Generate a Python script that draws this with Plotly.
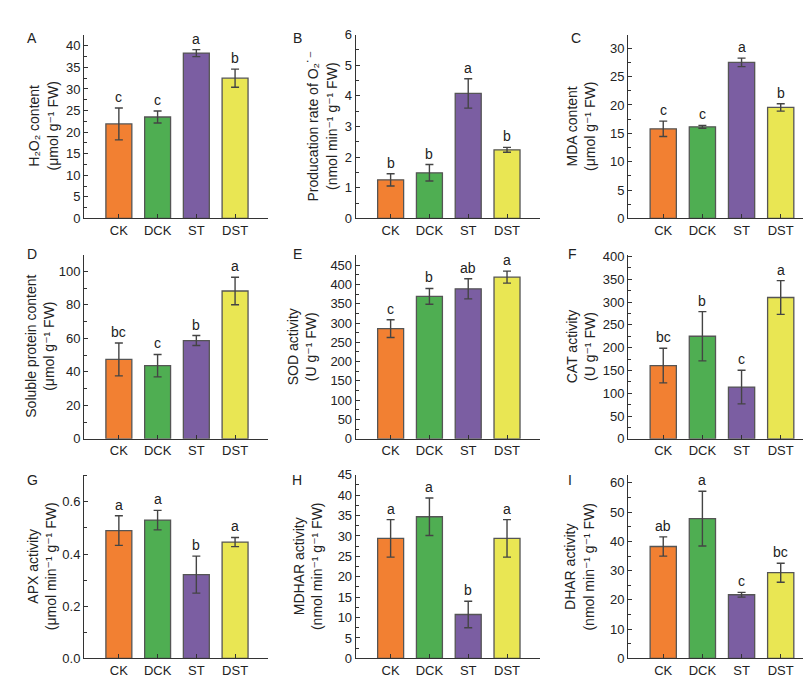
import plotly.graph_objects as go

W, H = 811, 687

categories = ["CK", "DCK", "ST", "DST"]
colors = ["#F28032", "#4FAE52", "#7B5EA2", "#E9E653"]

panel_labels = ["A", "B", "C", "D", "E", "F", "G", "H", "I"]

h2o2_mean = [21.9, 23.5, 38.3, 32.5]
h2o2_err = [3.7, 1.4, 0.8, 2.1]
h2o2_sig = ["c", "c", "a", "b"]

o2_mean = [1.26, 1.49, 4.08, 2.24]
o2_err = [0.2, 0.27, 0.48, 0.08]
o2_sig = ["b", "b", "a", "b"]

mda_mean = [15.8, 16.15, 27.5, 19.56]
mda_err = [1.35, 0.25, 0.75, 0.65]
mda_sig = ["c", "c", "a", "b"]

protein_mean = [47.4, 43.7, 58.7, 88.3]
protein_err = [9.8, 6.7, 3.0, 8.2]
protein_sig = ["bc", "c", "b", "a"]

sod_mean = [285.4, 369.0, 388.4, 418.8]
sod_err = [23.0, 20.5, 26.0, 15.6]
sod_sig = ["c", "b", "ab", "a"]

cat_mean = [160.7, 225.0, 113.6, 310.0]
cat_err = [38.0, 54.0, 37.0, 37.0]
cat_sig = ["bc", "b", "c", "a"]

apx_mean = [0.49, 0.53, 0.321, 0.446]
apx_err = [0.057, 0.0375, 0.071, 0.0175]
apx_sig = ["a", "a", "b", "a"]

mdhar_mean = [29.4, 34.7, 10.75, 29.4]
mdhar_err = [4.6, 4.6, 3.25, 4.6]
mdhar_sig = ["a", "a", "b", "a"]

dhar_mean = [38.25, 47.8, 21.75, 29.3]
dhar_err = [3.3, 9.35, 0.8, 3.25]
dhar_sig = ["ab", "a", "c", "bc"]

y_titles = [
    "H₂O₂ content<br>(μmol g⁻¹ FW)",
    "Producation rate of O₂˙⁻<br>(nmol min⁻¹ g⁻¹ FW)",
    "MDA content<br>(μmol g⁻¹ FW)",
    "Soluble protein content<br>(μmol g⁻¹ FW)",
    "SOD activity<br>(U g⁻¹ FW)",
    "CAT activity<br>(U g⁻¹ FW)",
    "APX activity<br>(μmol min⁻¹ g⁻¹ FW)",
    "MDHAR activity<br>(nmol min⁻¹ g⁻¹ FW)",
    "DHAR activity<br>(nmol min⁻¹ g⁻¹ FW)",
]

means = [h2o2_mean, o2_mean, mda_mean, protein_mean, sod_mean, cat_mean, apx_mean, mdhar_mean, dhar_mean]
errs = [h2o2_err, o2_err, mda_err, protein_err, sod_err, cat_err, apx_err, mdhar_err, dhar_err]
sigs = [h2o2_sig, o2_sig, mda_sig, protein_sig, sod_sig, cat_sig, apx_sig, mdhar_sig, dhar_sig]

y_ranges = [[0, 42.6], [0, 6], [0, 32.4], [0, 110], [0, 477], [0, 404], [0, 0.704], [0, 45], [0, 62.8]]
y_dticks = [5, 1, 5, 20, 50, 50, 0.2, 5, 10]
y_formats = ["", "", "", "", "", "", ".1f", "", ""]

# layout in pixels
col_x = [(76, 260), (347.7, 532), (620, 806)]
row_y = [(20, 208), (245, 433.3), (470, 657.7)]
title_x = [35, 314, 572.5, 32, 293.5, 572.5, 33.7, 299.5, 571]
label_pos = [(17, 24), (283, 24), (561, 24), (17, 244), (283, 244), (558, 244), (17, 475), (282, 475), (558, 475)]

FONT = "Liberation Sans, Arial, DejaVu Sans, sans-serif"
TXT = "#222222"
FS = 14
TFS = 13

fig = go.Figure()
annotations = []
layout_axes = {}

for k in range(9):
    r, c = divmod(k, 3)
    idx = "" if k == 0 else str(k + 1)
    xa, ya = "x" + idx, "y" + idx
    x0, x1 = col_x[c]
    y0, y1 = row_y[r]
    fig.add_trace(go.Bar(
        x=list(range(4)), y=means[k],
        width=0.67,
        marker=dict(color=colors, line=dict(color="#555555", width=1.3)),
        error_y=dict(type="data", array=errs[k], visible=True, color="#444444", thickness=1.4, width=4),
        xaxis=xa, yaxis=ya, showlegend=False, hoverinfo="skip",
    ))
    layout_axes["xaxis" + idx] = dict(
        domain=[x0 / W, x1 / W], anchor=ya, range=[-0.9, 3.85],
        tickvals=list(range(4)), ticktext=categories,
        ticks="inside", ticklen=4, tickcolor="#333333",
        showline=True, linecolor="#333333", linewidth=1,
        showgrid=False, zeroline=False, fixedrange=True,
        tickfont=dict(size=TFS, color=TXT, family=FONT),
    )
    layout_axes["yaxis" + idx] = dict(
        domain=[1 - y1 / H, 1 - y0 / H], anchor=xa, range=y_ranges[k],
        dtick=y_dticks[k], tick0=0, tickformat=y_formats[k],
        ticks="inside", ticklen=4, tickcolor="#333333",
        minor=dict(ticks="inside", ticklen=3, dtick=y_dticks[k] / 2, tickcolor="#333333", showgrid=False),
        showline=True, linecolor="#333333", linewidth=1,
        showgrid=False, zeroline=False, fixedrange=True,
        tickfont=dict(size=TFS, color=TXT, family=FONT),
    )
    for i in range(4):
        annotations.append(dict(
            x=i, y=means[k][i] + errs[k][i], xref=xa, yref=ya,
            text=sigs[k][i], showarrow=False, yanchor="bottom", yshift=1,
            font=dict(size=FS, color=TXT, family=FONT),
        ))
    annotations.append(dict(
        x=title_x[k] / W, y=1 - (y0 + y1) / 2 / H, xref="paper", yref="paper",
        text=y_titles[k], showarrow=False, textangle=-90,
        xanchor="center", yanchor="middle",
        font=dict(size=FS, color=TXT, family=FONT),
    ))
    lx, ly = label_pos[k]
    annotations.append(dict(
        x=lx / W, y=1 - ly / H, xref="paper", yref="paper",
        text=panel_labels[k], showarrow=False, xanchor="left", yanchor="middle",
        font=dict(size=FS, color=TXT, family=FONT),
    ))

fig.update_layout(
    width=W, height=H,
    margin=dict(l=0, r=0, t=0, b=0),
    paper_bgcolor="white", plot_bgcolor="white",
    annotations=annotations,
    **layout_axes,
)

fig.write_html("out.html")
